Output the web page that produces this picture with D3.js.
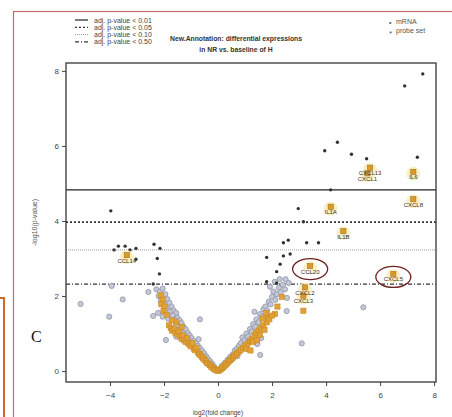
<!DOCTYPE html>
<html><head><meta charset="utf-8">
<script src="https://cdn.jsdelivr.net/npm/d3@7"></script>
<style>body{margin:0;background:#fff}svg{display:block}</style>
</head><body>
<script>
const xTicks=[-4,-2,0,2,4,6,8];
const yTicks=[0,2,4,6,8];
const thresholds=[4.83,3.97,3.23,2.32];
const thresholdLabels=["adj. p-value < 0.01","adj. p-value < 0.05","adj. p-value < 0.10","adj. p-value < 0.50"];
const legendRight=["mRNA","probe set"];
const titleLines=["New.Annotation: differential expressions","in NR vs. baseline of H"];
// significant mRNA (dark dots)
const sigPoints=[[7.58,7.92],[6.91,7.6],[4.42,6.1],[3.95,5.87],[4.94,5.78],[5.5,5.66],[7.38,5.7],[4.17,4.83],[2.97,4.33],[3.16,3.98],[2.42,3.42],[2.6,3.49],[3.28,3.42],[3.72,3.42],[2.42,3.07],[2.67,3.12],[1.8,3.03],[2.3,2.85],[2.17,2.65],[1.8,2.38],[2.17,2.34],
[-3.97,4.27],[-3.85,3.23],[-3.69,3.33],[-3.44,3.33],[-3.26,3.23],[-3.04,3.27],[-3.04,2.98],[-2.37,3.38],[-2.15,3.27],[-2.25,3.0],[-2.17,2.59],[-2.4,2.32]];
// non-significant mRNA (grey)
const mrnaPoints=[[-3.94,2.27],[-5.09,1.79],[-4.03,1.45],[-3.53,1.91],[-2.58,2.11],[-2.4,1.47],[-1.93,0.83],[-0.67,1.38],[1.56,0.43],[3.1,0.74],[5.38,1.7],[2.54,1.6],
[-2.28,2.18],[-2.15,2.12],[-2.05,2.2],[-2.2,2.0],[-1.95,2.05],[-1.88,1.92],[-2.12,1.86],[-1.8,1.82],[-2.0,1.78],[-1.72,1.72],[-1.9,1.68],[-1.65,1.62],[-1.78,1.58],[-1.55,1.55],[-1.68,1.48],[-1.5,1.42],[-1.6,1.36],[-1.42,1.35],[-1.52,1.22],[-1.35,1.28],[-1.28,1.18],[-1.4,1.1],[-1.2,1.12],[-1.12,1.02],[-1.25,0.98],[-1.05,0.95],[-0.98,0.88],[-1.1,0.84],[-0.9,0.8],[-0.82,0.76],[-0.95,0.68],[-0.75,0.68],[-0.68,0.62],[-0.6,0.55],[-0.52,0.48],[-0.45,0.4],[-0.38,0.34],[-0.3,0.27],[-0.22,0.2],[-0.15,0.13],[-2.22,1.55],[-1.85,1.4],[-2.05,1.45],[-0.72,0.85],[-1.55,0.92],
[0.15,0.15],[0.25,0.22],[0.35,0.3],[0.45,0.38],[0.55,0.45],[0.62,0.55],[0.7,0.6],[0.78,0.68],[0.85,0.75],[0.9,0.9],[0.98,0.82],[1.05,1.0],[1.12,0.92],[1.18,1.12],[1.25,1.05],[1.3,1.25],[1.38,1.18],[1.42,1.38],[1.5,1.3],[1.55,1.52],[1.62,1.45],[1.68,1.65],[1.75,1.72],[1.82,1.62],[1.88,1.85],[1.95,1.78],[2.0,1.98],[2.05,2.12],[2.12,1.9],[2.18,2.05],[2.25,2.22],[2.32,2.1],[2.4,2.3],[2.48,2.18],[2.55,1.95],[1.92,2.25],[2.1,2.38],[2.28,2.45],[2.5,2.45],[1.45,0.72],[1.1,0.58],[1.6,0.88],[0.72,0.4],[2.62,2.35],[1.35,1.58]];
// probe sets (orange)
const probePoints=[[3.16,1.61],[2.11,1.52],
[-2.12,2.02],[-2.05,1.9],[-2.1,1.78],[-1.98,1.72],[-2.02,1.6],[-1.9,1.5],[-1.82,1.22],[-1.75,1.15],[-1.7,1.08],[-1.62,1.12],[-1.58,1.02],[-1.5,0.98],[-1.46,1.06],[-1.4,0.92],[-1.35,0.86],[-1.3,0.95],[-1.25,0.82],[-1.2,0.78],[-1.15,0.88],[-1.1,0.74],[-1.05,0.7],[-1.0,0.66],[-0.95,0.75],[-0.9,0.6],[-0.85,0.56],[-0.8,0.62],[-0.75,0.5],[-0.7,0.46],[-0.65,0.42],[-0.6,0.38],[-0.55,0.34],[-0.5,0.3],[-0.45,0.26],[-0.4,0.22],[-0.35,0.19],[-0.3,0.16],[-0.25,0.12],[-0.2,0.09],[-0.15,0.06],[-0.1,0.04],[-0.05,0.02],[0,0.01],[-1.55,1.3],[-1.35,1.18],[-1.7,1.35],
[0.05,0.02],[0.1,0.05],[0.15,0.08],[0.2,0.11],[0.25,0.15],[0.3,0.18],[0.35,0.22],[0.4,0.26],[0.45,0.29],[0.5,0.33],[0.55,0.36],[0.6,0.4],[0.65,0.44],[0.7,0.47],[0.78,0.52],[0.85,0.57],[0.92,0.62],[1.0,0.68],[1.05,0.6],[1.1,0.74],[1.18,0.8],[1.25,0.86],[1.3,0.78],[1.35,0.95],[1.42,1.02],[1.5,1.08],[1.55,0.96],[1.6,1.15],[1.68,1.22],[1.72,1.1],[1.8,1.3],[1.85,1.45],[1.9,1.38],[1.78,1.55],[1.65,1.4],[2.0,1.48],[2.2,1.72],[2.36,1.98],[1.2,0.55],[1.45,0.82]];
// labelled probe sets
const geneNames=["CXCL13","CXCL1","IL6","CXCL8","IL1A","IL1B","CCL20","CXCL5","CXCL2","CXCL3","CCL14"];
const geneX=[5.63,5.53,7.23,7.23,4.17,4.64,3.41,6.49,3.22,3.16,-3.38];
const geneY=[5.42,5.27,5.31,4.58,4.38,3.73,2.8,2.59,2.23,2.01,3.09];
const circled=["CCL20","CXCL5"];

const W=452,H=417;
const svg=d3.select("body").append("svg").attr("width",W).attr("height",H)
  .style("font-family","'Liberation Sans',Arial,sans-serif");
const L=66,R=436,T=63,B=382;
const x=d3.scaleLinear().domain([-5.63,8.07]).range([L,R]);
const y=d3.scaleLinear().domain([-0.29,8.21]).range([B,T]);

// outer frames
svg.append("rect").attr("x",13.5).attr("y",11.5).attr("width",460).attr("height",420)
  .attr("fill","none").attr("stroke","#c46a6a").attr("stroke-width",1.2);
svg.append("rect").attr("x",-10).attr("y",298).attr("width",14).attr("height",140)
  .attr("fill","none").attr("stroke","#d4682c").attr("stroke-width",2);

const lineStyles=[{d:null,c:"#222",w:1.2},{d:"2,2",c:"#333",w:1.6},{d:"1,1",c:"#9a9a9a",w:1},{d:"4,2,1,2",c:"#333",w:1.2}];

// threshold lines
const g=svg.append("g");
g.selectAll("line.th").data(thresholds).join("line").attr("class","th")
  .attr("x1",L).attr("x2",R).attr("y1",d=>y(d)).attr("y2",d=>y(d))
  .attr("stroke",(d,i)=>lineStyles[i].c).attr("stroke-width",(d,i)=>lineStyles[i].w)
  .attr("stroke-dasharray",(d,i)=>lineStyles[i].d);

// grey mRNA
g.selectAll("circle.m").data(mrnaPoints).join("circle").attr("class","m")
  .attr("cx",d=>x(d[0])).attr("cy",d=>y(d[1])).attr("r",2.6)
  .attr("fill","#c4c7d6").attr("stroke","#8f95a8").attr("stroke-width",0.8);
// orange probe sets
g.selectAll("rect.p").data(probePoints).join("rect").attr("class","p")
  .attr("x",d=>x(d[0])-2.6).attr("y",d=>y(d[1])-2.6).attr("width",5.2).attr("height",5.2)
  .attr("fill","#e2a136").attr("stroke","#c78a22").attr("stroke-width",0.6);
// significant
g.selectAll("circle.s").data(sigPoints).join("circle").attr("class","s")
  .attr("cx",d=>x(d[0])).attr("cy",d=>y(d[1])).attr("r",1.7).attr("fill","#333");

// labelled genes
const genes=geneNames.map((n,i)=>({n,x:geneX[i],y:geneY[i]}));
g.selectAll("circle.glow").data(genes).join("circle").attr("class","glow")
  .attr("cx",d=>x(d.x)).attr("cy",d=>y(d.y)+2).attr("r",7).attr("fill","#f7ebb8").attr("opacity",0.8);
g.selectAll("rect.gp").data(genes).join("rect").attr("class","gp")
  .attr("x",d=>x(d.x)-2.6).attr("y",d=>y(d.y)-2.6).attr("width",5.2).attr("height",5.2)
  .attr("fill","#d99a2c").attr("stroke","#a8761c").attr("stroke-width",0.6);
g.selectAll("text.gl").data(genes).join("text").attr("class","gl")
  .attr("x",d=>x(d.x)).attr("y",d=>y(d.y)+7.5).attr("text-anchor","middle")
  .attr("font-size",6).attr("fill","#333").text(d=>d.n);
g.selectAll("ellipse").data(genes.filter(d=>circled.includes(d.n))).join("ellipse")
  .attr("cx",d=>x(d.x)).attr("cy",d=>y(d.y)+3).attr("rx",17.5).attr("ry",10.5)
  .attr("fill","none").attr("stroke","#6e2020").attr("stroke-width",1.3);

// plot box
svg.append("rect").attr("x",L).attr("y",T).attr("width",R-L).attr("height",B-T)
  .attr("fill","none").attr("stroke","#444").attr("stroke-width",1.4);

// axes
const xa=svg.append("g").attr("transform",`translate(0,${B})`)
  .call(d3.axisBottom(x).tickValues(xTicks).tickSize(4).tickSizeOuter(0).tickFormat(d3.format("d")));
const ya=svg.append("g").attr("transform",`translate(${L},0)`)
  .call(d3.axisLeft(y).tickValues(yTicks).tickSize(4).tickSizeOuter(0));
[xa,ya].forEach(a=>{a.select(".domain").remove();
  a.selectAll("line").attr("stroke","#444");
  a.selectAll("text").attr("font-size",8).attr("fill","#444").attr("font-family","'Liberation Sans',Arial,sans-serif");});
xa.selectAll("text").attr("dy","1.1em");

svg.append("text").attr("x",x(0)).attr("y",415).attr("text-anchor","middle")
  .attr("font-size",6.5).attr("fill","#444").text("log2(fold change)");
svg.append("text").attr("transform",`translate(37,${(T+B)/2}) rotate(-90)`).attr("text-anchor","middle")
  .attr("font-size",7).attr("fill","#555").text("-log10(p-value)");

svg.append("text").attr("x",31).attr("y",342).attr("font-size",16)
  .attr("font-family","'Liberation Serif',serif").attr("fill","#111").text("C");

// title
svg.selectAll("text.title").data(titleLines).join("text").attr("class","title")
  .attr("x",236).attr("y",(d,i)=>41+i*11).attr("text-anchor","middle")
  .attr("font-size",6.8).attr("font-weight","bold").attr("fill","#333").text(d=>d);

// legend left
const lg=svg.append("g");
lg.selectAll("line").data(thresholdLabels).join("line")
  .attr("x1",75).attr("x2",88).attr("y1",(d,i)=>20+i*7.3).attr("y2",(d,i)=>20+i*7.3)
  .attr("stroke",(d,i)=>lineStyles[i].c).attr("stroke-width",(d,i)=>Math.min(lineStyles[i].w,1.2))
  .attr("stroke-dasharray",(d,i)=>lineStyles[i].d);
lg.selectAll("text").data(thresholdLabels).join("text")
  .attr("x",94).attr("y",(d,i)=>22.5+i*7.3).attr("font-size",7).attr("fill","#444").text(d=>d);

// legend right
const rg=svg.append("g");
rg.selectAll("text.sym").data(["•","*"]).join("text").attr("class","sym")
  .attr("x",389).attr("y",(d,i)=>i?36:24.5).attr("font-size",(d,i)=>i?8:7).attr("fill","#555").text(d=>d);
rg.selectAll("text.lab").data(legendRight).join("text").attr("class","lab")
  .attr("x",396).attr("y",(d,i)=>23.5+i*9.5).attr("font-size",7).attr("fill","#555").text(d=>d);
</script>
</body></html>
